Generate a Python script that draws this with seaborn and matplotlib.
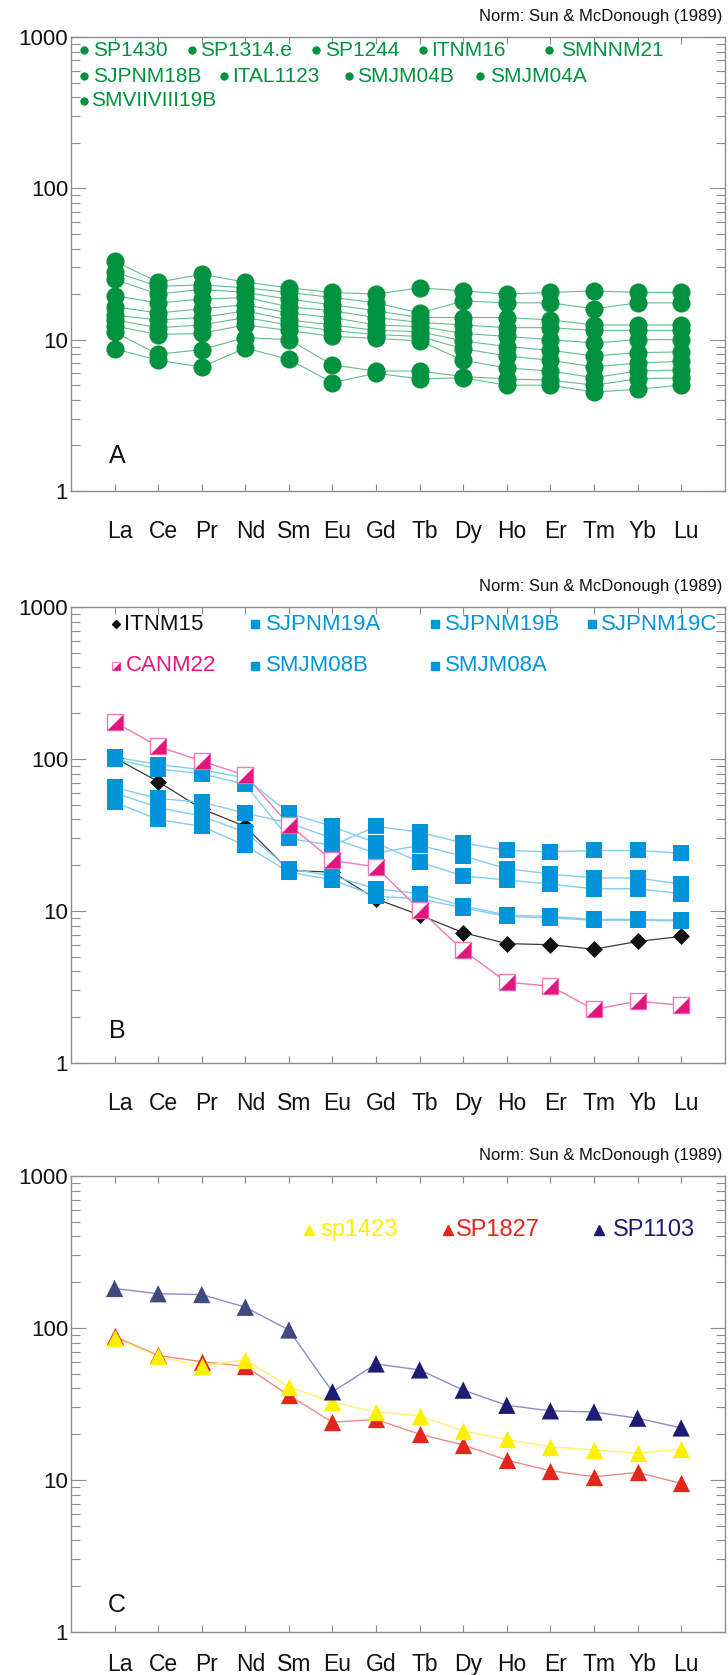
import matplotlib
matplotlib.use("Agg")
import numpy as np
import pandas as pd
import matplotlib.pyplot as plt
import matplotlib.transforms as mtransforms
import seaborn as sns
from matplotlib.path import Path
from matplotlib.ticker import FixedLocator, LogLocator, NullFormatter, FuncFormatter

# ---------------------------------------------------------------- data
ree = ["La", "Ce", "Pr", "Nd", "Sm", "Eu", "Gd", "Tb", "Dy", "Ho", "Er", "Tm", "Yb", "Lu"]

# Panel A: chondrite-normalised REE
sp1430 = [33, 24, 27, 24, 22, 20.5, 20, 22, 21, 20, 20.5, 21, 20.5, 20.5]
sp1314e = [28, 22.5, 23, 22, 20.5, 19, 17.5, 15, 18, 17.5, 17.5, 16, 17.5, 17.5]
sp1244 = [25, 20, 21.5, 20.5, 18.5, 17, 15.5, 14, 14, 14, 13.5, 12.5, 12.5, 12.5]
itnm16 = [19.5, 17.5, 18.5, 19, 16.5, 15.5, 14, 13, 12.5, 12, 12, 11.5, 11.5, 11.5]
smnnm21 = [16.5, 15, 16, 17, 15, 14, 12.5, 12.2, 11, 10.5, 10, 9.5, 10, 10]
sjpnm18b = [14.5, 13.5, 14, 15.5, 13.5, 12.5, 11.5, 11.3, 9.8, 9, 8.5, 7.8, 8.2, 8.3]
ital1123 = [13.5, 12, 12.5, 14, 12.5, 11.5, 10.8, 10.5, 8.7, 7.8, 7.3, 6.6, 7.0, 7.2]
smjm04b = [12.3, 10.8, 11, 12.5, 11.5, 10.5, 10.2, 9.8, 7.3, 6.5, 6.2, 5.6, 6.2, 6.3]
smjm04a = [11.2, 8, 8.6, 10.3, 10, 6.8, 6.2, 6.2, 5.7, 5.5, 5.4, 5.0, 5.5, 5.6]
smviiviii19b = [8.7, 7.3, 6.6, 8.8, 7.4, 5.2, 6.0, 5.5, 5.6, 5.0, 5.0, 4.5, 4.7, 5.0]

panel_a = {
    "SP1430": sp1430, "SP1314.e": sp1314e, "SP1244": sp1244, "ITNM16": itnm16,
    "SMNNM21": smnnm21, "SJPNM18B": sjpnm18b, "ITAL1123": ital1123,
    "SMJM04B": smjm04b, "SMJM04A": smjm04a, "SMVIIVIII19B": smviiviii19b,
}

# Panel B
itnm15 = [102, 71, 47, 36, 18.5, 18, 12, 9.4, 7.2, 6.1, 6.0, 5.6, 6.3, 6.8]
canm22 = [175, 121, 97, 78, 37, 21.5, 19.5, 10.2, 5.5, 3.4, 3.2, 2.25, 2.55, 2.4]
sjpnm19a = [103, 92, 85, 75, 44, 36, 28, 21, 17, 16, 15, 14, 14, 13]
sjpnm19b = [100, 86, 80, 68, 30, 27, 36, 33, 28, 25, 24.5, 25, 25, 24]
sjpnm19c = [65, 55, 52, 44, 38, 30, 24, 27, 23, 19, 17.5, 16.5, 16.5, 15]
smjm08b = [60, 48, 42, 33, 19, 17, 14, 13, 10.8, 9.4, 9.2, 8.8, 8.8, 8.7]
smjm08a = [52, 40, 36, 27, 18, 16, 12.5, 12, 10.5, 9.2, 9.0, 8.7, 8.7, 8.6]

panel_b_blue = {
    "SJPNM19A": sjpnm19a, "SJPNM19B": sjpnm19b, "SJPNM19C": sjpnm19c,
    "SMJM08B": smjm08b, "SMJM08A": smjm08a,
}

# Panel C
sp1423 = [86, 65, 56, 62, 41, 32.5, 28, 26.5, 21, 18.5, 16.5, 15.8, 15, 16]
sp1827 = [88, 66, 60, 56, 36, 24, 25, 20, 17, 13.5, 11.5, 10.5, 11.2, 9.5]
sp1103 = [182, 168, 166, 137, 97, 38, 58, 53, 39, 31, 28.5, 28, 25.5, 22]

norm_label = "Norm: Sun & McDonough (1989)"


def long_frame(series):
    rows = []
    for name, vals in series.items():
        for i, v in enumerate(vals):
            rows.append({"sample": name, "pos": i + 1, "value": v})
    return pd.DataFrame(rows)


# ---------------------------------------------------------------- style
sns.set_theme(style="white")
plt.rcParams["font.family"] = ["Liberation Sans", "DejaVu Sans"]
SPINE = "#8c8c8c"
INK = "#111111"

fig = plt.figure(figsize=(7.28, 16.75), dpi=100)
left, width = 0.0975, 0.898
ax_a = fig.add_axes([left, 0.7069, width, 0.2710])
ax_b = fig.add_axes([left, 0.3654, width, 0.2722])
ax_c = fig.add_axes([left, 0.0257, width, 0.2722])


def style_axes(ax, letter, letter_y, xpad):
    ax.set_yscale("log")
    ax.set_ylim(1, 1000)
    ax.set_xlim(0, len(ree) + 1)
    ax.xaxis.set_major_locator(FixedLocator(np.arange(1, len(ree) + 1)))
    ax.set_xticklabels(ree)
    ax.yaxis.set_major_locator(FixedLocator([1, 10, 100, 1000]))
    ax.yaxis.set_major_formatter(FuncFormatter(lambda v, p: f"{v:g}"))
    ax.yaxis.set_minor_locator(LogLocator(base=10, subs=np.arange(2, 10)))
    ax.yaxis.set_minor_formatter(NullFormatter())
    for s in ax.spines.values():
        s.set_color(SPINE)
        s.set_linewidth(1.0)
    ax.tick_params(axis="x", which="major", direction="in", top=True, bottom=True,
                   length=5, width=0.8, color=SPINE, labelsize=16.5, pad=xpad,
                   labelcolor=INK)
    ax.tick_params(axis="y", which="major", direction="in", left=True, right=True,
                   length=11, width=0.8, color=SPINE, labelsize=16, pad=2,
                   labelcolor=INK)
    ax.tick_params(axis="y", which="minor", direction="in", left=True, right=True,
                   length=6.5, width=0.8, color=SPINE)
    shift = mtransforms.ScaledTranslation(5 / 100, 0, fig.dpi_scale_trans)
    for lab in ax.get_xticklabels():
        lab.set_transform(lab.get_transform() + shift)
    ax.set_xlabel("")
    ax.set_ylabel("")
    ax.text(1.06, letter_y, letter, fontsize=18, ha="center", va="center", color=INK)
    ax.text(1.0 - 2 / 654, 1.0 + 16 / 454, norm_label, transform=ax.transAxes,
            ha="right", va="baseline", fontsize=12, color=INK)


# ---------------------------------------------------------------- panel A
GREEN = "#00923f"
GREEN_LINE = "#62be8c"
df_a = long_frame(panel_a)
sns.lineplot(data=df_a, x="pos", y="value", units="sample", estimator=None,
             sort=False, color=GREEN_LINE, linewidth=0.8, ax=ax_a, legend=False)
sns.scatterplot(data=df_a, x="pos", y="value", color=GREEN, marker="o", s=170,
                linewidth=0, ax=ax_a, legend=False, zorder=3)

tr_a = mtransforms.blended_transform_factory(ax_a.transAxes, ax_a.transData)
leg_a = [
    ("SP1430", 0.020, 0.033, 820), ("SP1314.e", 0.185, 0.198, 820),
    ("SP1244", 0.375, 0.388, 820), ("ITNM16", 0.538, 0.551, 820),
    ("SMNNM21", 0.731, 0.749, 820),
    ("SJPNM18B", 0.020, 0.033, 550), ("ITAL1123", 0.234, 0.246, 550),
    ("SMJM04B", 0.425, 0.438, 550), ("SMJM04A", 0.625, 0.641, 550),
    ("SMVIIVIII19B", 0.020, 0.031, 380),
]
for name, xm, xt, y in leg_a:
    ax_a.plot([xm], [y], transform=tr_a, marker="o", ms=5, color=GREEN,
              linestyle="none", clip_on=False)
    ax_a.text(xt, y, name, transform=tr_a, ha="left", va="center",
              color=GREEN, fontsize=15)
style_axes(ax_a, "A", 1.7, 21)

# ---------------------------------------------------------------- panel B
BLUE = "#0095da"
BLUE_LINE = "#82cdf0"
MAGENTA = "#e3157f"
PINK = "#f07ab8"
df_blue = long_frame(panel_b_blue)
df_black = long_frame({"ITNM15": itnm15})
df_pink = long_frame({"CANM22": canm22})

sns.lineplot(data=df_black, x="pos", y="value", color="#3a3a3a", linewidth=0.9,
             ax=ax_b, legend=False, estimator=None, sort=False)
sns.lineplot(data=df_blue, x="pos", y="value", units="sample", estimator=None,
             sort=False, color=BLUE_LINE, linewidth=1.0, ax=ax_b, legend=False)
sns.lineplot(data=df_pink, x="pos", y="value", color=PINK, linewidth=1.0,
             ax=ax_b, legend=False, estimator=None, sort=False)
sns.scatterplot(data=df_black, x="pos", y="value", color=INK, marker="D",
                s=75, linewidth=0, ax=ax_b, legend=False, zorder=3)
sns.scatterplot(data=df_blue, x="pos", y="value", color=BLUE, marker="s",
                s=130, linewidth=0, ax=ax_b, legend=False, zorder=4)
sns.scatterplot(data=df_pink, x="pos", y="value", color="white", marker="s",
                s=125, edgecolor=PINK, linewidth=1.0, ax=ax_b, legend=False, zorder=5)
half = Path([(1, -1), (1, 1), (-1, -1), (1, -1)],
            [Path.MOVETO, Path.LINETO, Path.LINETO, Path.CLOSEPOLY])
ax_b.scatter(df_pink["pos"], df_pink["value"], marker=half, s=125,
             color=MAGENTA, linewidth=0, zorder=6)

tr_b = mtransforms.blended_transform_factory(ax_b.transAxes, ax_b.transData)
ROW1, ROW2 = 770, 410
LEG_FS = 16
ax_b.plot([0.069], [ROW1], transform=tr_b, marker="D", ms=4, color=INK,
          linestyle="none")
ax_b.text(0.081, ROW1, "ITNM15", transform=tr_b, ha="left", va="center",
          color=INK, fontsize=LEG_FS)
for name, xm, xt, y in [("SJPNM19A", 0.282, 0.298, ROW1), ("SJPNM19B", 0.557, 0.572, ROW1),
                        ("SJPNM19C", 0.797, 0.811, ROW1), ("SMJM08B", 0.282, 0.298, ROW2),
                        ("SMJM08A", 0.557, 0.572, ROW2)]:
    ax_b.plot([xm], [y], transform=tr_b, marker="s", ms=5.5, color=BLUE,
              linestyle="none")
    ax_b.text(xt, y, name, transform=tr_b, ha="left", va="center",
              color=BLUE, fontsize=LEG_FS)
ax_b.plot([0.069], [ROW2], transform=tr_b, marker="s", ms=6, color="white",
          markeredgecolor=PINK, markeredgewidth=0.8, linestyle="none")
ax_b.plot([0.069], [ROW2], transform=tr_b, marker=half, ms=6, color=MAGENTA,
          markeredgewidth=0, linestyle="none")
ax_b.text(0.084, ROW2, "CANM22", transform=tr_b, ha="left", va="center",
          color=MAGENTA, fontsize=LEG_FS)
style_axes(ax_b, "B", 1.62, 21)

# ---------------------------------------------------------------- panel C
YELLOW = "#fff000"
RED = "#e3261c"
NAVY = "#1c1c74"
c_series = [
    ("SP1827", sp1827, RED, "#f28a84"),
    ("sp1423", sp1423, YELLOW, "#fff36a"),
    ("SP1103", sp1103, NAVY, "#8c8cc8"),
]
for name, vals, mcol, lcol in c_series:
    d = long_frame({name: vals})
    sns.lineplot(data=d, x="pos", y="value", color=lcol, linewidth=1.0,
                 ax=ax_c, legend=False, estimator=None, sort=False)
for name, vals, mcol, lcol in c_series:
    d = long_frame({name: vals})
    if name == "SP1103":
        cols = ["#3e4b7c"] * 5 + [NAVY] * (len(vals) - 5)
        ax_c.scatter(d["pos"], d["value"], marker="^", s=155, c=cols,
                     linewidth=0, zorder=4)
    else:
        sns.scatterplot(data=d, x="pos", y="value", color=mcol, marker="^", s=155,
                        linewidth=0, ax=ax_c, legend=False, zorder=3)

tr_c = mtransforms.blended_transform_factory(ax_c.transAxes, ax_c.transData)
LEG_C = 440
for name, xm, xt, col in [("sp1423", 0.364, 0.382, YELLOW), ("SP1827", 0.577, 0.589, RED),
                          ("SP1103", 0.807, 0.829, NAVY)]:
    ax_c.plot([xm], [LEG_C], transform=tr_c, marker="^", ms=7, color=col,
              linestyle="none")
    ax_c.text(xt, LEG_C, name, transform=tr_c, ha="left", va="center",
              color=col, fontsize=17)
style_axes(ax_c, "C", 1.5, 15)

fig.savefig("out.png", dpi=100)
